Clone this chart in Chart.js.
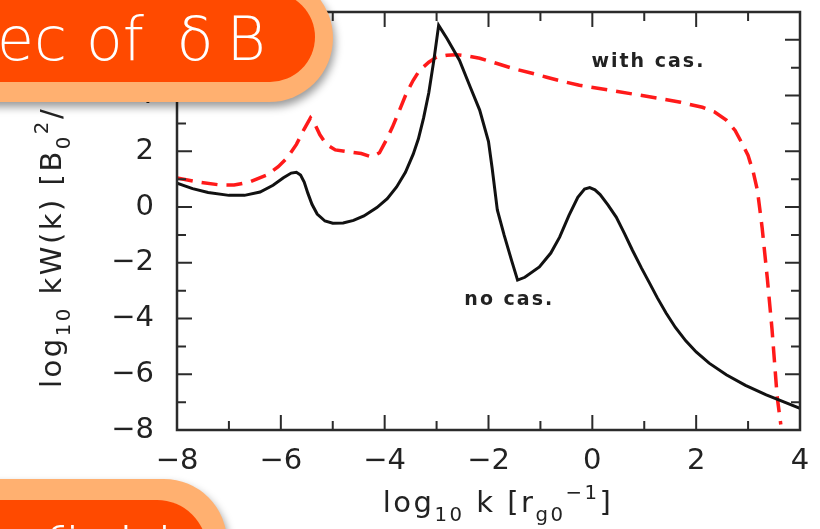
<!DOCTYPE html>
<html lang="en">
<head>
  <meta charset="UTF-8" />
  <title>Spectrum of dB</title>
  <script src="https://cdn.jsdelivr.net/npm/chart.js"></script>
  <style>
    body {
      margin: 0;
      background: #fff;
      overflow: hidden;
    }
    #wrap {
      position: relative;
      width: 820px;
      height: 529px;
      overflow: hidden;
    }
    #chart {
      position: absolute;
      left: 0;
      top: 0;
    }
    .badge-outer {
      position: absolute;
      background: #ffb070;
      box-shadow: 2px 5px 9px rgba(0, 0, 0, 0.4);
    }
    .badge-inner {
      position: absolute;
      background: #ff4a00;
    }
    .badge-text {
      position: absolute;
      color: #fff;
      font-family: 'DejaVu Sans', sans-serif;
      font-weight: 200;
      font-size: 60px;
      line-height: 60px;
      white-space: nowrap;
    }
  </style>
</head>
<body>
  <div id="wrap">
    <canvas id="chart" width="820" height="529"></canvas>

    <!-- slide title badge (top left) -->
    <div class="badge-outer" style="left:-100px; top:-26px; width:433px; height:128px; border-radius:0 64px 64px 0;"></div>
    <div class="badge-inner" style="left:-100px; top:-8px; width:415px; height:90px; border-radius:0 45px 45px 0;"></div>
    <div class="badge-text" style="left:-3px; top:9px;">ec of<span style="margin-left:33px">δ</span><span style="margin-left:13px">B</span></div>

    <!-- second badge (bottom left, mostly cut off) -->
    <div class="badge-outer" style="left:-100px; top:479px; width:327px; height:126px; border-radius:0 63px 63px 0;"></div>
    <div class="badge-inner" style="left:-100px; top:500px; width:307px; height:100px; border-radius:0 50px 50px 0;"></div>
    <div class="badge-text" style="left:43px; top:520px;">field</div>
  </div>

  <script>
    // axis ranges and tick labels
    const X_MIN = -8, X_MAX = 4;
    const Y_MIN = -8, Y_MAX = 7;
    const xTickValues = [-8, -6, -4, -2, 0, 2, 4];
    const yTickValues = [-8, -6, -4, -2, 0, 2, 4, 6];

    // "no cas." curve (black, solid)
    const noCasK = [-8.00, -7.70, -7.40, -7.00, -6.70, -6.40, -6.15, -5.95, -5.80, -5.70,
      -5.62, -5.55, -5.48, -5.40, -5.30, -5.15, -5.00, -4.80, -4.60, -4.40,
      -4.15, -3.95, -3.77, -3.60, -3.45, -3.35, -3.25, -3.15, -3.05, -2.96,
      -2.80, -2.56, -2.35, -2.17, -2.00, -1.93, -1.83, -1.70, -1.55, -1.44,
      -1.30, -1.02, -0.80, -0.63, -0.45, -0.28, -0.15, -0.05, 0.05, 0.15,
      0.30, 0.46, 0.62, 0.77, 0.95, 1.10, 1.25, 1.42, 1.60, 1.80,
      2.00, 2.25, 2.58, 2.95, 3.35, 3.70, 4.00];
    const noCasW = [0.86, 0.66, 0.52, 0.42, 0.42, 0.54, 0.78, 1.05, 1.22, 1.25,
      1.15, 0.90, 0.50, 0.10, -0.25, -0.50, -0.58, -0.57, -0.48, -0.32,
      -0.02, 0.30, 0.72, 1.25, 1.90, 2.45, 3.20, 4.10, 5.30, 6.52,
      6.05, 5.27, 4.30, 3.48, 2.35, 1.40, -0.10, -1.00, -1.95, -2.62,
      -2.52, -2.15, -1.65, -1.08, -0.30, 0.35, 0.65, 0.70, 0.62, 0.45,
      0.08, -0.36, -0.95, -1.54, -2.20, -2.72, -3.25, -3.80, -4.32, -4.80,
      -5.20, -5.60, -6.02, -6.40, -6.74, -7.00, -7.22];

    // "with cas." curve (red, dashed)
    const withCasK = [-8.00, -7.60, -7.20, -6.90, -6.60, -6.27, -6.05, -5.88, -5.70, -5.55,
      -5.43, -5.35, -5.25, -5.12, -4.95, -4.70, -4.45, -4.25, -4.10, -3.97,
      -3.85, -3.72, -3.58, -3.45, -3.33, -3.15, -3.00, -2.80, -2.62, -2.40,
      -2.17, -1.85, -1.54, -1.20, -0.88, -0.55, -0.25, 0.33, 0.80, 1.29,
      1.70, 2.12, 2.35, 2.58, 2.75, 2.88, 3.00, 3.10, 3.18, 3.27,
      3.37, 3.46, 3.56, 3.63];
    const withCasW = [1.04, 0.90, 0.80, 0.79, 0.90, 1.15, 1.45, 1.76, 2.25, 2.80,
      3.20, 3.00, 2.60, 2.25, 2.05, 1.98, 1.92, 1.80, 1.95, 2.40,
      2.87, 3.45, 4.09, 4.55, 4.90, 5.20, 5.38, 5.45, 5.47, 5.42,
      5.34, 5.16, 4.98, 4.82, 4.66, 4.50, 4.37, 4.20, 4.05, 3.90,
      3.76, 3.58, 3.42, 3.12, 2.75, 2.30, 1.85, 1.25, 0.60, -0.73,
      -2.55, -4.36, -6.80, -7.80];

    // curve annotations, placed in data units
    const curveLabels = [
      { text: 'with cas.', k: 1.08, w: 5.2 },
      { text: 'no cas.', k: -1.6, w: -3.33 }
    ];

    const toPoints = (xs, ys) => xs.map((v, i) => ({ x: v, y: ys[i] }));
    const minus = v => (v < 0 ? '\u2212' + Math.abs(v) : String(v));

    const TEXT = '#222';
    const TICK_FONT = { family: "'DejaVu Sans', sans-serif", size: 29 };

    // box frame with inward ticks on all four sides
    const frameTicks = {
      id: 'frameTicks',
      afterDatasetsDraw(chart) {
        const { ctx, chartArea: a, scales: { x, y } } = chart;
        ctx.save();
        ctx.strokeStyle = '#2b2b2b';
        ctx.lineWidth = 2.5;
        ctx.strokeRect(a.left, a.top, a.right - a.left, a.bottom - a.top);
        ctx.lineWidth = 2;
        ctx.beginPath();
        for (let v = X_MIN; v <= X_MAX; v++) {
          const len = v % 2 === 0 ? 15 : 9;
          const px = x.getPixelForValue(v);
          ctx.moveTo(px, a.bottom); ctx.lineTo(px, a.bottom - len);
          ctx.moveTo(px, a.top); ctx.lineTo(px, a.top + len);
        }
        for (let v = Y_MIN; v <= Y_MAX; v++) {
          const len = v % 2 === 0 ? 15 : 9;
          const py = y.getPixelForValue(v);
          ctx.moveTo(a.left, py); ctx.lineTo(a.left + len, py);
          ctx.moveTo(a.right, py); ctx.lineTo(a.right - len, py);
        }
        ctx.stroke();
        ctx.restore();
      }
    };

    // text pieces with sub/superscripts
    function richText(ctx, parts, base) {
      const fontOf = p => (p.small ? base * 0.68 : base) + "px 'DejaVu Sans', sans-serif";
      let w = 0;
      parts.forEach(p => { ctx.font = fontOf(p); w += ctx.measureText(p.t).width; });
      return {
        width: w,
        draw(x0, y0) {
          let cx = x0;
          parts.forEach(p => {
            ctx.font = fontOf(p);
            ctx.fillText(p.t, cx, y0 + (p.dy || 0));
            cx += ctx.measureText(p.t).width;
          });
        }
      };
    }

    const annotations = {
      id: 'annotations',
      afterDraw(chart) {
        const { ctx, scales: { x, y } } = chart;
        ctx.save();
        ctx.fillStyle = TEXT;
        ctx.letterSpacing = '2px';

        // curve labels
        ctx.font = "bold 19px 'DejaVu Sans', sans-serif";
        ctx.textAlign = 'center';
        ctx.textBaseline = 'middle';
        curveLabels.forEach(l => ctx.fillText(l.text, x.getPixelForValue(l.k), y.getPixelForValue(l.w)));

        // x axis title: log10 k [rg0^-1]
        ctx.textAlign = 'left';
        ctx.textBaseline = 'alphabetic';
        ctx.letterSpacing = '2.5px';
        const xt = richText(ctx, [
          { t: 'log' }, { t: '10', small: true, dy: 9 }, { t: ' k [r' },
          { t: 'g0', small: true, dy: 9 }, { t: '\u22121', small: true, dy: -13 }, { t: ']' }
        ], 29);
        xt.draw(498 - xt.width / 2, 512);

        // y axis title: log10 kW(k) [B0^2/ ... (rest hidden under the badge)
        const yt = richText(ctx, [
          { t: 'log' }, { t: '10', small: true, dy: 9 }, { t: ' kW(k) [B' },
          { t: '0', small: true, dy: 9 }, { t: '2', small: true, dy: -13 }, { t: '/' }
        ], 29);
        ctx.translate(61, 388);
        ctx.rotate(-Math.PI / 2);
        yt.draw(0, 0);
        ctx.restore();
      }
    };

    new Chart(document.getElementById('chart'), {
      type: 'line',
      data: {
        datasets: [
          {
            label: 'no cas.',
            data: toPoints(noCasK, noCasW),
            borderColor: '#111',
            borderWidth: 3,
            pointRadius: 0,
            tension: 0
          },
          {
            label: 'with cas.',
            data: toPoints(withCasK, withCasW),
            borderColor: '#ff1a1a',
            borderWidth: 3.5,
            borderDash: [16, 9],
            pointRadius: 0,
            tension: 0
          }
        ]
      },
      options: {
        responsive: false,
        animation: false,
        layout: { padding: { top: 12, right: 20, left: 0, bottom: 0 } },
        plugins: {
          legend: { display: false },
          tooltip: { enabled: false }
        },
        scales: {
          x: {
            type: 'linear',
            min: X_MIN,
            max: X_MAX,
            grid: { display: false, drawTicks: false },
            border: { display: false },
            afterBuildTicks: s => { s.ticks = xTickValues.map(v => ({ value: v })); },
            afterFit: s => { s.height = 99; s.paddingLeft = 0; s.paddingRight = 0; },
            ticks: {
              color: TEXT,
              font: TICK_FONT,
              padding: 14,
              maxRotation: 0,
              autoSkip: false,
              callback: v => minus(v)
            }
          },
          y: {
            type: 'linear',
            min: Y_MIN,
            max: Y_MAX,
            grid: { display: false, drawTicks: false },
            border: { display: false },
            afterBuildTicks: s => { s.ticks = yTickValues.map(v => ({ value: v })); },
            afterFit: s => { s.width = 177; s.paddingTop = 0; s.paddingBottom = 0; },
            ticks: {
              color: TEXT,
              font: TICK_FONT,
              padding: 23,
              autoSkip: false,
              callback: v => minus(v)
            }
          }
        }
      },
      plugins: [frameTicks, annotations]
    });
  </script>
</body>
</html>
